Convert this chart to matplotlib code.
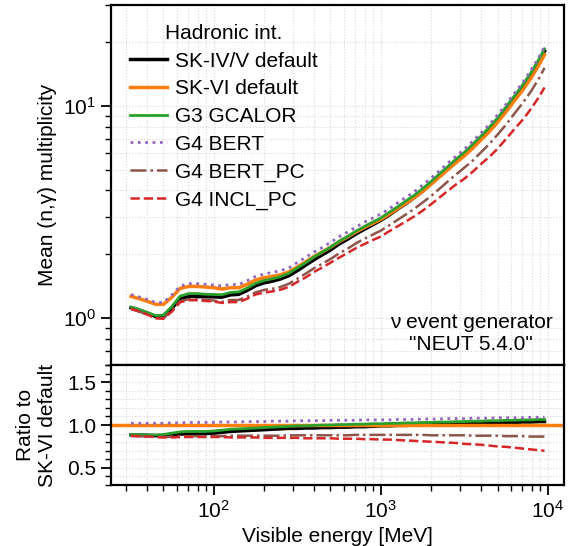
import numpy as np
import matplotlib.pyplot as plt
from matplotlib.ticker import MultipleLocator, LogLocator, NullFormatter

plt.rcParams['font.family'] = ['Liberation Sans', 'DejaVu Sans']
plt.rcParams['mathtext.fontset'] = 'custom'
plt.rcParams['mathtext.rm'] = 'Liberation Sans'
plt.rcParams['mathtext.it'] = 'Liberation Sans:italic'
plt.rcParams['mathtext.bf'] = 'Liberation Sans:bold'
plt.rcParams['font.size'] = 15

# visible energy bins [MeV]
energy = [32, 35, 40, 45, 50, 56, 63, 71, 79, 89,
          100, 112, 126, 141, 158, 178, 200, 224, 251, 282,
          316, 355, 398, 447, 501, 562, 631, 708, 794, 891,
          1000, 1122, 1259, 1413, 1585, 1778, 1995, 2239, 2512, 2818,
          3162, 3548, 3981, 4467, 5012, 5623, 6310, 7079, 7943, 8913,
          9550]

# SK-VI default mean (n,gamma) multiplicity
skvi = [1.265, 1.24, 1.20, 1.16, 1.16, 1.25, 1.38, 1.41, 1.41, 1.40,
        1.39, 1.37, 1.39, 1.39, 1.44, 1.51, 1.55, 1.57, 1.60, 1.65,
        1.74, 1.84, 1.95, 2.05, 2.16, 2.29, 2.41, 2.54, 2.67, 2.79,
        2.92, 3.09, 3.28, 3.48, 3.70, 3.96, 4.27, 4.62, 5.00, 5.40,
        5.82, 6.32, 6.92, 7.58, 8.40, 9.40, 10.6, 11.9, 13.6, 15.8,
        17.5]

# ratios to SK-VI default
r_sk45 = [0.885, 0.885, 0.88, 0.875, 0.875, 0.885, 0.895, 0.895, 0.895, 0.90,
          0.905, 0.915, 0.925, 0.93, 0.935, 0.94, 0.945, 0.95, 0.955, 0.96,
          0.96, 0.965, 0.965, 0.97, 0.97, 0.975, 0.975, 0.98, 0.98, 0.985,
          0.99, 0.99, 0.995, 0.995, 1.0, 1.0, 1.005, 1.01, 1.01, 1.015,
          1.015, 1.02, 1.02, 1.025, 1.025, 1.03, 1.03, 1.035, 1.035, 1.04,
          1.04]
r_g3 = [0.89, 0.89, 0.885, 0.885, 0.89, 0.905, 0.92, 0.925, 0.925, 0.925,
        0.93, 0.94, 0.95, 0.955, 0.96, 0.965, 0.97, 0.975, 0.98, 0.985,
        0.99, 0.99, 0.995, 1.0, 1.0, 1.005, 1.005, 1.01, 1.01, 1.015,
        1.015, 1.02, 1.02, 1.025, 1.025, 1.03, 1.03, 1.035, 1.035, 1.04,
        1.04, 1.045, 1.045, 1.05, 1.05, 1.055, 1.055, 1.06, 1.06, 1.065,
        1.065]
r_bert = [1.02, 1.02, 1.02, 1.02, 1.02, 1.025, 1.025, 1.03, 1.03, 1.03,
          1.03, 1.035, 1.035, 1.035, 1.04, 1.04, 1.04, 1.045, 1.045, 1.045,
          1.05, 1.05, 1.05, 1.05, 1.055, 1.055, 1.055, 1.055, 1.06, 1.06,
          1.06, 1.06, 1.065, 1.065, 1.065, 1.07, 1.07, 1.07, 1.075, 1.075,
          1.075, 1.08, 1.08, 1.08, 1.085, 1.085, 1.085, 1.085, 1.09, 1.09,
          1.09]
r_bert_pc = [0.87, 0.87, 0.865, 0.86, 0.86, 0.865, 0.87, 0.87, 0.87, 0.87,
             0.87, 0.87, 0.875, 0.875, 0.875, 0.875, 0.875, 0.875, 0.875, 0.88,
             0.88, 0.88, 0.88, 0.88, 0.88, 0.88, 0.88, 0.885, 0.885, 0.885,
             0.885, 0.885, 0.885, 0.885, 0.885, 0.885, 0.88, 0.88, 0.88, 0.88,
             0.88, 0.875, 0.875, 0.875, 0.875, 0.87, 0.87, 0.87, 0.865, 0.865,
             0.865]
r_incl_pc = [0.875, 0.87, 0.865, 0.86, 0.855, 0.855, 0.86, 0.86, 0.86, 0.86,
             0.86, 0.86, 0.855, 0.855, 0.855, 0.855, 0.85, 0.85, 0.85, 0.85,
             0.85, 0.845, 0.845, 0.845, 0.845, 0.84, 0.84, 0.84, 0.835, 0.835,
             0.83, 0.83, 0.825, 0.82, 0.815, 0.81, 0.805, 0.80, 0.795, 0.79,
             0.78, 0.775, 0.77, 0.76, 0.75, 0.745, 0.735, 0.725, 0.715, 0.705,
             0.70]

energy = np.array(energy)
skvi = np.array(skvi)

series = [
    ("SK-IV/V default", np.array(r_sk45), "black", "-", 2.5),
    ("SK-VI default", np.ones(len(skvi)), "tab:orange", "-", 2.5),
    ("G3 GCALOR", np.array(r_g3), "tab:green", "-", 2.0),
    ("G4 BERT", np.array(r_bert), "tab:purple", ":", 2.0),
    ("G4 BERT_PC", np.array(r_bert_pc), "tab:brown", "-.", 1.8),
    ("G4 INCL_PC", np.array(r_incl_pc), "tab:red", "--", 1.8),
]

fig = plt.figure(figsize=(5.86, 5.46), dpi=100)
ax = fig.add_axes([0.189, 0.3315, 0.7735, 0.6593])
axr = fig.add_axes([0.189, 0.1117, 0.7735, 0.2198], sharex=ax)

for label, ratio, color, ls, lw in series:
    ax.plot(energy, skvi * ratio, color=color, ls=ls, lw=lw, label=label)
    if label == "SK-VI default":
        axr.axhline(1.0, color=color, lw=lw)
    else:
        axr.plot(energy, ratio, color=color, ls=ls, lw=lw)

ax.set_xscale("log")
ax.set_yscale("log")
ax.set_xlim(24.2, 12500)
ax.set_ylim(0.6, 30)
axr.set_ylim(0.3, 1.7)
axr.yaxis.set_major_locator(MultipleLocator(0.5))
axr.yaxis.set_minor_locator(MultipleLocator(0.1))
ax.yaxis.set_minor_formatter(NullFormatter())

for a in (ax, axr):
    a.grid(True, which="both", ls=":", color="#d8d8d8", lw=0.8)
    a.tick_params(which="major", direction="out", length=7, width=1.3)
    a.tick_params(which="minor", direction="out", length=4, width=1.0)
    for sp in a.spines.values():
        sp.set_linewidth(1.6)
ax.tick_params(axis="x", which="both", length=0, labelbottom=False)

ax.set_ylabel("Mean (n,γ) multiplicity")
axr.set_ylabel("Ratio to\nSK-VI default")
ax.yaxis.set_label_coords(-0.118, 0.5)
axr.yaxis.set_label_coords(-0.118, 0.5)
axr.set_xlabel("Visible energy [MeV]")

ax.legend(title="Hadronic int.", loc="upper left", frameon=False,
          handlelength=1.8, handletextpad=0.4, labelspacing=0.42,
          title_fontsize=15, fontsize=15)

ax.text(0.975, 0.03, 'ν event generator\n"NEUT 5.4.0"', transform=ax.transAxes,
        ha="right", va="bottom", multialignment="center")

fig.savefig("out.png", dpi=100)
